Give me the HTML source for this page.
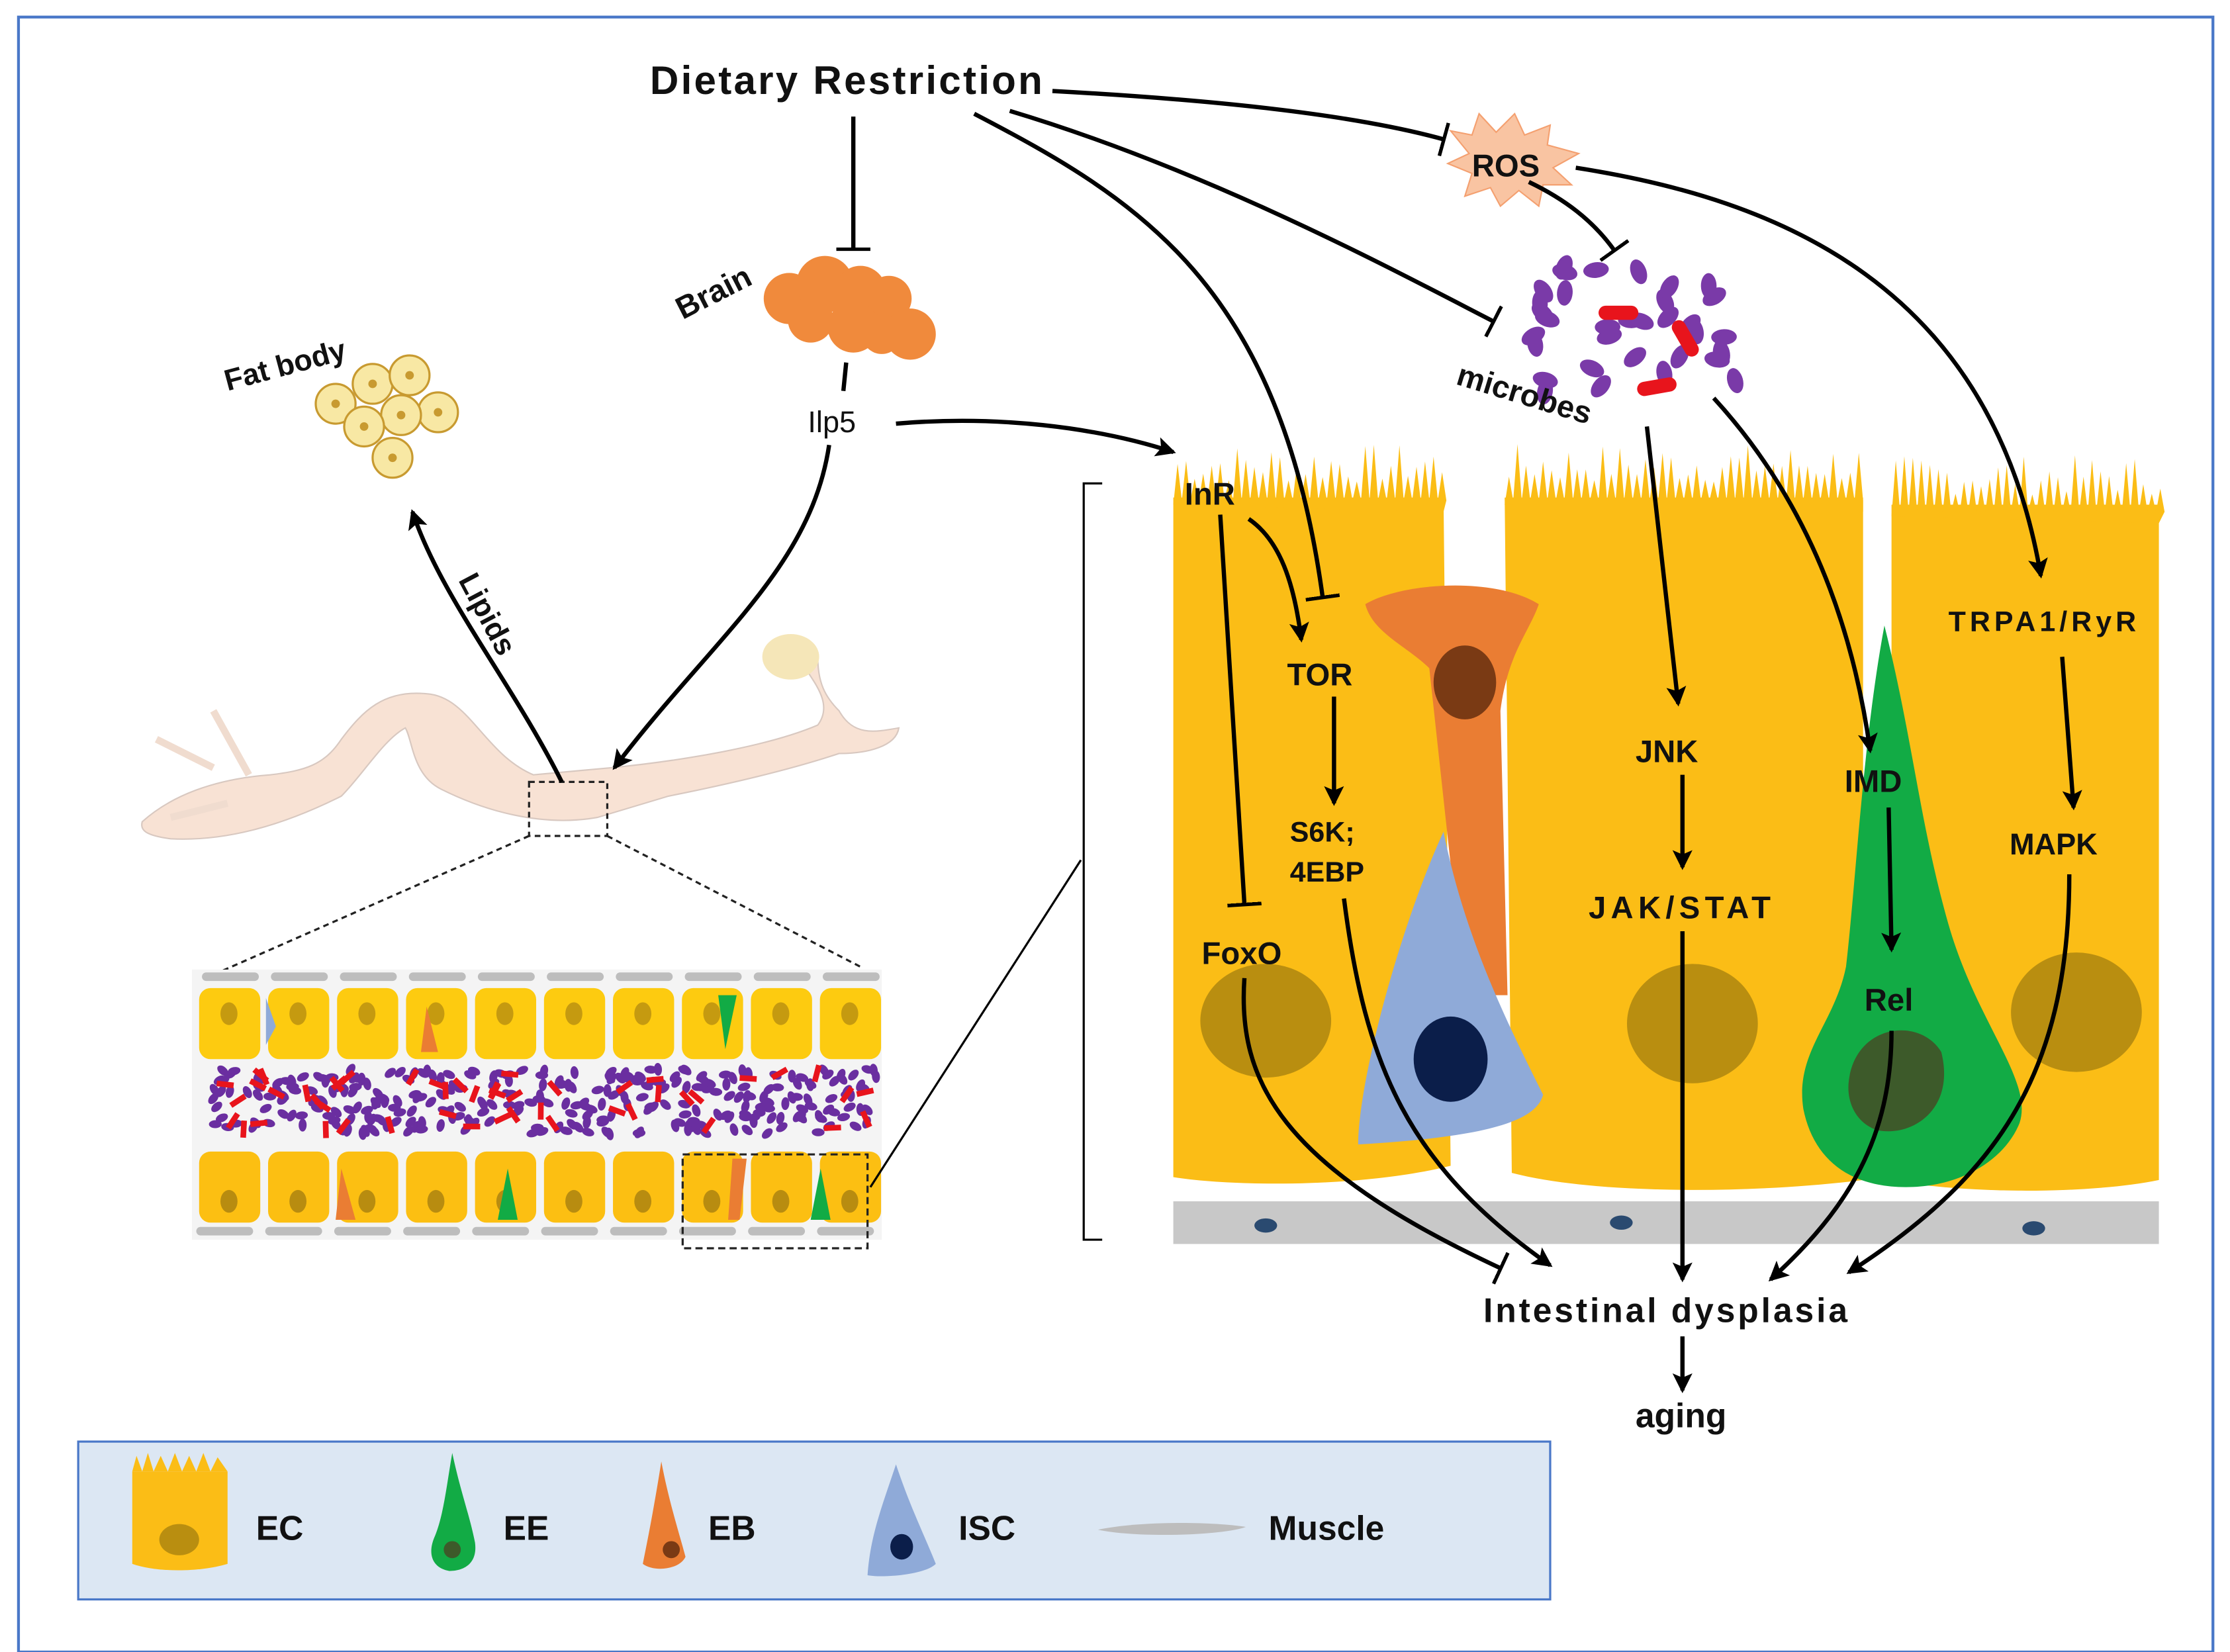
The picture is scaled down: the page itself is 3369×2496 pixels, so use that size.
<!DOCTYPE html>
<html><head><meta charset="utf-8"><style>
html,body{margin:0;padding:0;background:#fff}
svg{display:block}
text{font-family:"Liberation Sans",Arial,sans-serif;font-weight:bold;fill:#111}
</style></head><body>
<svg id="s" width="3369" height="2496" viewBox="0 0 1568 1162" preserveAspectRatio="none" xmlns="http://www.w3.org/2000/svg">
<defs>
<marker id="a" markerWidth="16" markerHeight="16" refX="12" refY="8" orient="auto" markerUnits="userSpaceOnUse"><path d="M0,1 L14,8 L0,15 L3,8 z" fill="#000"/></marker>
<marker id="t" markerWidth="20" markerHeight="24" refX="1" refY="12" orient="auto" markerUnits="userSpaceOnUse"><path d="M1,0 L1,24" stroke="#000" stroke-width="3"/></marker>
</defs>
<rect x="0" y="0" width="1568" height="1162" fill="#fff"/>
<rect x="13" y="12" width="1543" height="1150" fill="none" stroke="#4a78c8" stroke-width="2"/>

<path d="M100,578 C120,560 150,548 190,545 C215,542 228,538 240,520 C255,500 270,485 300,488 C330,490 340,530 375,545 L430,540 C480,535 540,525 575,510 C590,490 560,470 560,455 C560,445 575,450 575,462 C575,480 580,490 590,500 C600,518 615,515 632,512 C630,525 610,530 590,530 C560,540 520,550 470,560 L420,575 C380,582 340,570 310,555 C290,545 290,520 285,512 C270,520 255,545 240,560 C200,580 160,592 120,590 C105,588 98,585 100,578 Z" fill="#f8e2d4" stroke="#d8c8c0" stroke-width="1"/>
<path d="M110,520 L150,540 M120,575 L160,565 M150,500 L175,545" stroke="#f0dccf" stroke-width="5" fill="none"/>
<ellipse cx="556" cy="462" rx="20" ry="16" fill="#f5e6b8"/>
<rect x="372" y="550" width="55" height="38" fill="none" stroke="#222" stroke-dasharray="4,3" stroke-width="1.5"/>
<line x1="372" y1="588" x2="140" y2="690" stroke="#222" stroke-dasharray="4,3" stroke-width="1.5"/>
<line x1="427" y1="588" x2="605" y2="680" stroke="#222" stroke-dasharray="4,3" stroke-width="1.5"/>

<g id="inset"></g>
<rect x="480" y="812" width="130" height="66" fill="none" stroke="#222" stroke-dasharray="5,3" stroke-width="1.5"/>
<line x1="612" y1="835" x2="760" y2="605" stroke="#000" stroke-width="1.5"/>

<rect x="825" y="845" width="693" height="30" fill="#c8c8c8"/>
<ellipse cx="890" cy="862" rx="8" ry="5" fill="#2a4a70"/>
<ellipse cx="1140" cy="860" rx="8" ry="5" fill="#2a4a70"/>
<ellipse cx="1430" cy="864" rx="8" ry="5" fill="#2a4a70"/>
<path d="M825,350 L1015,350 L1020,820 C960,835 870,835 825,828 Z" fill="#fbbd16"/>
<path d="M1058,350 L1310,350 L1310,830 C1230,840 1120,840 1063,825 Z" fill="#fbbd16"/>
<path d="M1330,355 L1518,355 L1518,830 C1470,840 1380,840 1330,830 Z" fill="#fbbd16"/>
<g id="villi" fill="#fbbd16"></g>
<ellipse cx="890" cy="718" rx="46" ry="40" fill="#b98e10"/>
<ellipse cx="1190" cy="720" rx="46" ry="42" fill="#b98e10"/>
<ellipse cx="1460" cy="712" rx="46" ry="42" fill="#b98e10"/>
<path d="M960,425 C985,410 1050,405 1082,425 C1075,445 1060,460 1055,500 L1060,700 L1030,700 L1005,470 C990,455 965,445 960,425 Z" fill="#ea7d33"/>
<ellipse cx="1030" cy="480" rx="22" ry="26" fill="#7a3a14"/>
<path d="M1015,585 C1030,660 1060,720 1085,770 C1080,790 1040,800 955,805 C955,760 985,650 1015,585 Z" fill="#8faad8"/>
<ellipse cx="1020" cy="745" rx="26" ry="30" fill="#0b1e4a"/>
<path d="M1325,440 C1345,520 1350,580 1370,650 C1390,720 1430,760 1420,790 C1410,815 1380,835 1340,835 C1300,835 1275,815 1268,780 C1262,740 1290,720 1298,680 C1305,620 1310,520 1325,440 Z" fill="#12ab45"/>
<path d="M1300,760 C1305,720 1350,715 1365,740 C1375,780 1345,800 1320,795 C1305,790 1298,775 1300,760 Z" fill="#3d5a2a"/>
<path d="M775,340 L762,340 L762,872 L775,872" fill="none" stroke="#000" stroke-width="1.5"/>

<g fill="#f08a3c">
<circle cx="555" cy="210" r="18"/><circle cx="580" cy="200" r="20"/><circle cx="605" cy="205" r="18"/><circle cx="625" cy="210" r="16"/><circle cx="640" cy="235" r="18"/><circle cx="600" cy="230" r="18"/><circle cx="570" cy="225" r="16"/><circle cx="620" cy="235" r="14"/>
</g>
<g fill="#f8e8a4" stroke="#c89a30" stroke-width="1.5">
<circle cx="236" cy="284" r="14"/><circle cx="262" cy="270" r="14"/><circle cx="288" cy="264" r="14"/><circle cx="308" cy="290" r="14"/><circle cx="282" cy="292" r="14"/><circle cx="256" cy="300" r="14"/><circle cx="276" cy="322" r="14"/>
</g>
<g fill="#c89a30"><circle cx="236" cy="284" r="3"/><circle cx="262" cy="270" r="3"/><circle cx="288" cy="264" r="3"/><circle cx="308" cy="290" r="3"/><circle cx="282" cy="292" r="3"/><circle cx="256" cy="300" r="3"/><circle cx="276" cy="322" r="3"/></g>
<polygon points="1020,92 1035,95 1040,80 1052,93 1065,80 1072,95 1090,88 1088,102 1110,108 1092,118 1105,130 1085,130 1082,145 1068,134 1055,145 1048,132 1030,138 1035,122 1018,115 1033,108" fill="#f9c4a2" stroke="#f4a070" stroke-width="1"/>
<g id="mic"></g>

<g fill="none" stroke="#000" stroke-width="3">
<path d="M740,64 C850,70 950,80 1015,98" marker-end="url(#t)"/>
<path d="M600,82 L600,175" marker-end="url(#t)"/>
<path d="M685,80 C800,140 900,200 930,420" marker-end="url(#t)"/>
<path d="M710,78 C850,120 980,190 1050,226" marker-end="url(#t)"/>
<path d="M1075,128 C1100,140 1120,155 1135,176" marker-end="url(#t)"/>
<path d="M1108,118 C1250,140 1400,200 1435,405" marker-end="url(#a)"/>
<path d="M630,298 C700,292 770,300 825,318" marker-end="url(#a)"/>
<path d="M583,313 C570,400 500,450 432,540" marker-end="url(#a)"/>
<path d="M395,550 C360,480 310,420 290,360" marker-end="url(#a)"/>
<path d="M595,255 L593,275"/>
<path d="M858,362 L875,636" marker-end="url(#t)"/>
<path d="M878,365 C900,380 910,410 915,450" marker-end="url(#a)"/>
<path d="M938,490 L938,565" marker-end="url(#a)"/>
<path d="M945,632 C960,750 990,820 1090,890" marker-end="url(#a)"/>
<path d="M875,688 C870,760 900,820 1055,892" marker-end="url(#t)"/>
<path d="M1158,300 L1180,495" marker-end="url(#a)"/>
<path d="M1183,545 L1183,610" marker-end="url(#a)"/>
<path d="M1183,655 L1183,900" marker-end="url(#a)"/>
<path d="M1205,280 C1260,340 1300,420 1315,528" marker-end="url(#a)"/>
<path d="M1328,568 L1330,668" marker-end="url(#a)"/>
<path d="M1330,725 C1330,800 1300,850 1245,900" marker-end="url(#a)"/>
<path d="M1450,462 L1458,568" marker-end="url(#a)"/>
<path d="M1455,615 C1455,760 1400,830 1300,895" marker-end="url(#a)"/>
<path d="M1183,940 L1183,978" marker-end="url(#a)"/>
</g>

<text x="457" y="66" font-size="28" textLength="276">Dietary Restriction</text>
<text x="1035" y="124" font-size="22">ROS</text>
<text x="480" y="225" font-size="22" transform="rotate(-27 480 225)">Brain</text>
<text x="160" y="275" font-size="21" transform="rotate(-15 160 275)">Fat body</text>
<text x="568" y="304" font-size="21" style="font-weight:normal">Ilp5</text>
<text x="322" y="408" font-size="21" transform="rotate(62 322 408)">Lipids</text>
<text x="1023" y="270" font-size="22" transform="rotate(17 1023 270)">microbes</text>
<text x="833" y="355" font-size="22">InR</text>
<text x="905" y="482" font-size="22">TOR</text>
<text x="907" y="592" font-size="20">S6K;</text>
<text x="907" y="620" font-size="20">4EBP</text>
<text x="845" y="678" font-size="22">FoxO</text>
<text x="1150" y="536" font-size="22">JNK</text>
<text x="1117" y="646" font-size="22" textLength="128">JAK/STAT</text>
<text x="1297" y="557" font-size="22">IMD</text>
<text x="1311" y="711" font-size="22">Rel</text>
<text x="1370" y="444" font-size="20" textLength="132">TRPA1/RyR</text>
<text x="1413" y="601" font-size="21">MAPK</text>
<text x="1043" y="930" font-size="24" textLength="256">Intestinal dysplasia</text>
<text x="1150" y="1004" font-size="24">aging</text>

<rect x="55" y="1014" width="1035" height="111" fill="#dce7f3" stroke="#4a78c8" stroke-width="1.5"/>
<path d="M93,1035 L160,1035 L160,1100 C140,1106 110,1106 93,1100 Z" fill="#fbbd16"/>
<path d="M93,1035 L96,1024 L100,1035 L104,1022 L108,1035 L113,1024 L118,1035 L123,1022 L128,1035 L133,1024 L138,1035 L143,1022 L148,1035 L153,1025 L160,1035 Z" fill="#fbbd16"/>
<ellipse cx="126" cy="1083" rx="14" ry="11" fill="#b98e10"/>
<text x="180" y="1083" font-size="24">EC</text>
<path d="M318,1022 C324,1050 330,1065 334,1085 C336,1100 326,1105 316,1105 C304,1103 300,1093 306,1080 C312,1065 314,1045 318,1022 Z" fill="#12ab45"/>
<circle cx="318" cy="1090" r="6" fill="#3d5a2a"/>
<text x="354" y="1083" font-size="24">EE</text>
<path d="M465,1028 C470,1055 478,1080 482,1095 C478,1104 460,1106 452,1100 C455,1085 460,1060 465,1028 Z" fill="#ea7d33"/>
<circle cx="472" cy="1090" r="6" fill="#7a3a14"/>
<text x="498" y="1083" font-size="24">EB</text>
<path d="M630,1030 C640,1060 650,1080 658,1100 C650,1108 620,1110 610,1108 C612,1080 620,1060 630,1030 Z" fill="#8faad8"/>
<ellipse cx="634" cy="1088" rx="8" ry="9" fill="#0b1e4a"/>
<text x="674" y="1083" font-size="24">ISC</text>
<path d="M772,1076 C800,1070 850,1070 876,1074 C860,1080 800,1082 772,1076 Z" fill="#bdbdbd"/>
<text x="892" y="1083" font-size="24">Muscle</text>
</svg>
<script>
var NS="http://www.w3.org/2000/svg";
function el(p,tag,at){var e=document.createElementNS(NS,tag);for(var k in at)e.setAttribute(k,at[k]);p.appendChild(e);return e;}
var seed=7;function r(){seed=(seed*9301+49297)%233280;return seed/233280;}
var v=document.getElementById('villi');
[[825,1015,350],[1058,1310,350],[1330,1518,358]].forEach(function(c){
 var d="M"+c[0]+","+(c[2]+5);for(var x=c[0];x<c[1];x+=6){d+=" L"+(x+3)+","+(c[2]-10-r()*28)+" L"+(x+6)+","+(c[2]+2);}d+=" L"+c[1]+","+(c[2]+10)+" Z";el(v,'path',{d:d});});
var m=document.getElementById('mic');
for(var i=0;i<34;i++){var x=1075+r()*150,y=188+r()*90;el(m,'ellipse',{cx:x,cy:y,rx:9,ry:5.5,fill:'#7a3aa8',transform:'rotate('+(r()*180)+' '+x+' '+y+')'});}
[[1138,220,0],[1185,238,60],[1165,272,-10]].forEach(function(b){el(m,'rect',{x:b[0]-14,y:b[1]-5,width:28,height:10,rx:5,fill:'#e8141c',transform:'rotate('+b[2]+' '+b[0]+' '+b[1]+')'});});
var g=document.getElementById('inset');
el(g,'rect',{x:135,y:682,width:485,height:190,fill:'#f4f4f4'});
for(var i=0;i<10;i++){var x=140+i*48.5;
 el(g,'rect',{x:x+2,y:684,width:40,height:6,rx:3,fill:'#bdbdbd'});
 el(g,'rect',{x:x,y:695,width:43,height:50,rx:8,fill:'#fdcb10'});
 el(g,'ellipse',{cx:x+21,cy:713,rx:6,ry:8,fill:'#c59a10'});
 el(g,'rect',{x:x,y:810,width:43,height:50,rx:8,fill:'#fcbf12'});
 el(g,'ellipse',{cx:x+21,cy:845,rx:6,ry:8,fill:'#b88c10'});
 el(g,'rect',{x:x-2,y:863,width:40,height:6,rx:3,fill:'#bdbdbd'});}
el(g,'path',{d:'M187,702 L194,722 L187,735 Z',fill:'#8faad8'});
el(g,'path',{d:'M300,708 L308,740 L296,740 Z',fill:'#ea7d33'});
el(g,'path',{d:'M505,700 L518,700 L510,738 Z',fill:'#12ab45'});
el(g,'path',{d:'M240,822 L250,858 L236,858 Z',fill:'#ea7d33'});
el(g,'path',{d:'M357,822 L364,858 L350,858 Z',fill:'#12ab45'});
el(g,'path',{d:'M515,815 L525,815 L520,858 L512,858 Z',fill:'#ea7d33'});
el(g,'path',{d:'M577,822 L584,858 L570,858 Z',fill:'#12ab45'});
for(var i=0;i<300;i++){var x=150+r()*470,y=752+r()*46;el(g,'ellipse',{cx:x,cy:y,rx:4.5,ry:2.8,fill:'#6a2ea0',transform:'rotate('+(r()*180)+' '+x+' '+y+')'});}
for(var i=0;i<50;i++){var x=155+r()*460,y=755+r()*40;el(g,'rect',{x:x-6,y:y-2,width:12,height:4,fill:'#e8141c',transform:'rotate('+(r()*180)+' '+x+' '+y+')'});}
</script>
</body></html>
